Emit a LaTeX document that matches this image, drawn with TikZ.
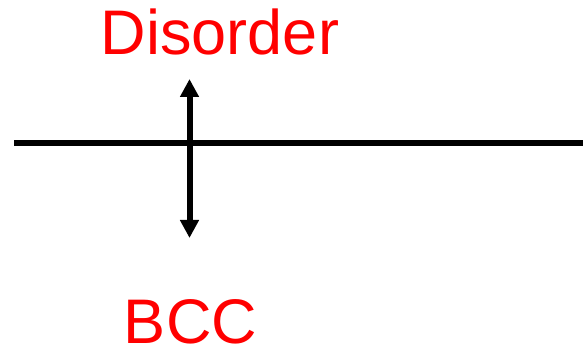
\documentclass[tikz,border=0pt]{standalone}
\usepackage{fontspec}
\setmainfont{Liberation Sans}
\usetikzlibrary{arrows.meta}
\begin{document}
\begin{tikzpicture}[x=1pt,y=1pt,
  lbl/.style={text=red,font=\fontsize{63}{70}\selectfont,inner sep=0pt,anchor=base},
  thick line/.style={line width=6.5pt},
  dbl/.style={line width=6pt,{Triangle[length=18pt,width=18pt]}-{Triangle[length=18pt,width=18pt]}}]
\useasboundingbox (0,0) rectangle (583,348);
\coordinate (l) at (14,205);
\coordinate (r) at (583,205);
\draw[thick line] (l) -- (r);
\coordinate (top) at (189.5,269);
\coordinate (bot) at (189.5,110);
\draw[dbl] (bot) -- (top);
\node[lbl] (dis) at (220,293) {Disorder};
\node[lbl] (bcc) at (190.5,5) {BCC};
\end{tikzpicture}
\end{document}
